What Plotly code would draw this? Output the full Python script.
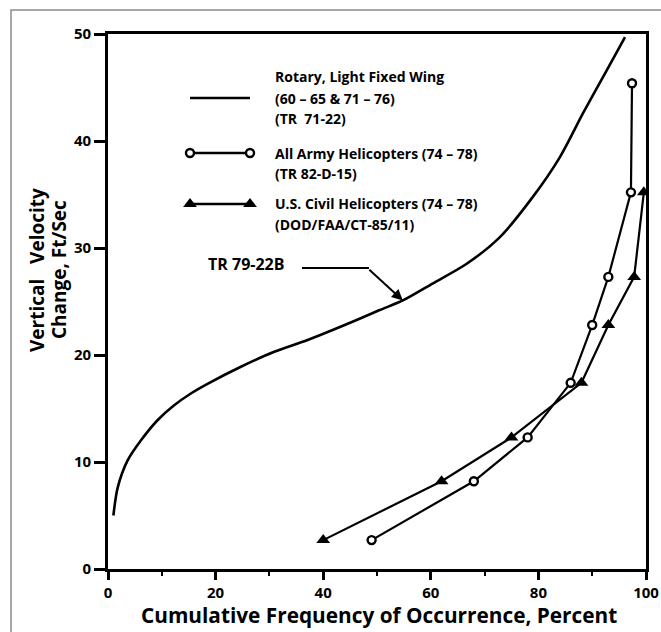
import plotly.graph_objects as go

# ---------------- data ----------------
curve_x = [1.0, 1.8, 3.6, 6.1, 9.2, 12.3, 15.4, 18.5, 24.7, 30.9, 37.1, 44.0, 50.5, 54.8,
           60.4, 66.6, 72.8, 79.0, 84.0, 88.3, 92.7, 96.1]
curve_y = [5.0, 7.6, 10.1, 12.0, 13.9, 15.3, 16.4, 17.3, 18.9, 20.3, 21.4, 22.8, 24.2, 25.1,
           26.7, 28.5, 31.0, 34.8, 38.5, 42.6, 46.6, 49.7]

army_x = [49.0, 68.0, 78.0, 86.0, 90.0, 93.0, 97.2, 97.4]
army_y = [2.7, 8.2, 12.3, 17.4, 22.8, 27.3, 35.2, 45.4]

civil_x = [40.0, 62.0, 75.0, 88.0, 93.0, 97.8, 99.6]
civil_y = [2.7, 8.2, 12.3, 17.4, 22.8, 27.3, 35.2]

x_ticks = [0, 20, 40, 60, 80, 100]
y_ticks = [0, 10, 20, 30, 40, 50]

legend_lines = [
    ["Rotary, Light Fixed Wing", "(60 \u2013 65 & 71 \u2013 76)", "(TR  71-22)"],
    ["All Army Helicopters (74 \u2013 78)", "(TR 82-D-15)"],
    ["U.S. Civil Helicopters (74 \u2013 78)", "(DOD/FAA/CT-85/11)"],
]
curve_label = "TR 79-22B"
x_title = "Cumulative Frequency of Occurrence, Percent"
y_title = ["Vertical   Velocity", "Change, Ft/Sec"]

# ---------------- layout geometry (page pixels) ----------------
W, H = 661, 632
PLOT_L, PLOT_R, PLOT_T, PLOT_B = 108, 646, 34, 569   # plot area in page pixels
PW, PH = PLOT_R - PLOT_L, PLOT_B - PLOT_T
FONT = "Open Sans"


def pxx(p):
    return (p - PLOT_L) / PW


def pxy(p):
    return (PLOT_B - p) / PH


fig = go.Figure()

fig.add_trace(go.Scatter(x=curve_x, y=curve_y, mode="lines",
                         line=dict(color="black", width=2.6, shape="spline", smoothing=0.8),
                         showlegend=False, hoverinfo="skip"))
fig.add_trace(go.Scatter(x=army_x, y=army_y, mode="lines+markers",
                         line=dict(color="black", width=2.2),
                         marker=dict(symbol="circle", size=8, color="white",
                                     line=dict(color="black", width=2.4)),
                         showlegend=False))
fig.add_trace(go.Scatter(x=civil_x, y=civil_y, mode="lines+markers",
                         line=dict(color="black", width=2.2),
                         marker=dict(symbol="triangle-up", size=12, color="black"),
                         showlegend=False))

# legend glyphs drawn on a page-pixel overlay axis
fig.add_trace(go.Scatter(x=[190, 250], y=[98, 98], mode="lines", xaxis="x2", yaxis="y2",
                         line=dict(color="black", width=2.4), showlegend=False, hoverinfo="skip"))
fig.add_trace(go.Scatter(x=[190, 250], y=[153, 153], mode="lines+markers", xaxis="x2", yaxis="y2",
                         line=dict(color="black", width=2.4),
                         marker=dict(symbol="circle", size=8, color="white",
                                     line=dict(color="black", width=2.4)),
                         showlegend=False, hoverinfo="skip"))
fig.add_trace(go.Scatter(x=[190, 250], y=[204, 204], mode="lines+markers", xaxis="x2", yaxis="y2",
                         line=dict(color="black", width=2.4),
                         marker=dict(symbol="triangle-up", size=12, color="black"),
                         showlegend=False, hoverinfo="skip"))

annotations = []
legend_y = [[77, 98, 118], [153, 173], [203, 224]]
for block, ys in zip(legend_lines, legend_y):
    for txt, yy in zip(block, ys):
        annotations.append(dict(x=pxx(273), y=pxy(yy), xref="paper", yref="paper",
                                text=txt, showarrow=False, xanchor="left", yanchor="middle",
                                font=dict(family=FONT, size=14, color="black", weight="bold")))

# curve label with bent arrow
annotations.append(dict(x=pxx(246), y=pxy(264), xref="paper", yref="paper",
                        text=curve_label, showarrow=False, xanchor="center", yanchor="middle",
                        font=dict(family=FONT, size=16, color="black", weight="bold")))
annotations.append(dict(x=54.8, y=25.1, xref="x", yref="y", text="", showarrow=True,
                        ax=-35, ay=-32, arrowhead=2, arrowsize=1.1, arrowwidth=2,
                        arrowcolor="black"))

# axis titles
annotations.append(dict(x=pxx(379), y=pxy(615), xref="paper", yref="paper", text=x_title,
                        showarrow=False, xanchor="center", yanchor="middle",
                        font=dict(family=FONT, size=20.8, color="black", weight="bold")))
annotations.append(dict(x=pxx(37), y=pxy(270), xref="paper", yref="paper", text=y_title[0],
                        showarrow=False, textangle=-90, xanchor="center", yanchor="middle",
                        font=dict(family=FONT, size=19, color="black", weight="bold")))
annotations.append(dict(x=pxx(59), y=pxy(270), xref="paper", yref="paper", text=y_title[1],
                        showarrow=False, textangle=-90, xanchor="center", yanchor="middle",
                        font=dict(family=FONT, size=19, color="black", weight="bold")))

shapes = [
    # outer page border
    dict(type="rect", xref="paper", yref="paper", x0=pxx(11), x1=pxx(720), y0=pxy(10), y1=pxy(720),
         line=dict(color="#8a8a8a", width=1.5), layer="below"),
    # horizontal lead of the curve label arrow
    dict(type="line", xref="paper", yref="paper", x0=pxx(302), x1=pxx(369), y0=pxy(268), y1=pxy(268),
         line=dict(color="black", width=2)),
]

tickfont = dict(family=FONT, size=15, color="black", weight="bold")
fig.update_layout(
    width=W, height=H,
    margin=dict(l=PLOT_L, r=W - PLOT_R, t=PLOT_T, b=H - PLOT_B, autoexpand=False),
    paper_bgcolor="white", plot_bgcolor="white",
    xaxis=dict(range=[0, 100], tickvals=x_ticks, ticks="outside", ticklen=8, tickwidth=2.5,
               tickcolor="black", showline=True, linecolor="black", linewidth=2.8, mirror=True,
               showgrid=False, zeroline=False, tickfont=tickfont, automargin=False,
               minor=dict(dtick=10, ticks="outside", ticklen=4, tickwidth=2, tickcolor="black",
                          showgrid=False)),
    yaxis=dict(range=[0, 50], tickvals=y_ticks, ticks="outside", ticklen=11, tickwidth=2.5,
               tickcolor="black", showline=True, linecolor="black", linewidth=2.8, mirror=True,
               showgrid=False, zeroline=False, tickfont=tickfont, automargin=False),
    xaxis2=dict(range=[PLOT_L, PLOT_R], overlaying="x", visible=False, fixedrange=True,
                automargin=False),
    yaxis2=dict(range=[PLOT_B, PLOT_T], overlaying="y", visible=False, fixedrange=True,
                automargin=False),
    annotations=annotations,
    shapes=shapes,
    showlegend=False,
)

fig.write_html("out.html", config={"responsive": False, "displayModeBar": False},
               post_script="document.body.style.margin='0';document.body.style.overflow='hidden';")
